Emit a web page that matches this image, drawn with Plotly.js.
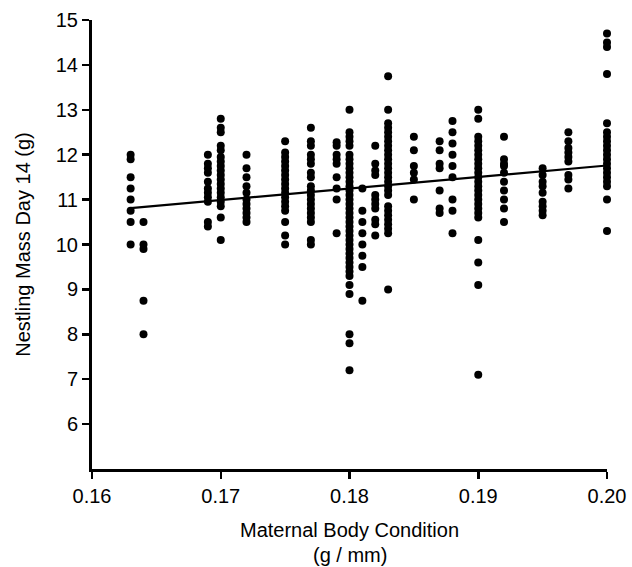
<!DOCTYPE html>
<html>
<head>
<meta charset="utf-8">
<script src="https://cdn.plot.ly/plotly-3.0.1.min.js"></script>
<style>html,body{margin:0;padding:0;background:#fff;}#chart{width:632px;height:567px;}</style>
</head>
<body>
<div id="chart"></div>
<script>
// Maternal body condition levels (g/mm)
const conditionLevels = [0.163, 0.164, 0.169, 0.170, 0.172, 0.175, 0.177, 0.179, 0.180, 0.181,
                         0.182, 0.183, 0.185, 0.187, 0.188, 0.190, 0.192, 0.195, 0.197, 0.200];
// Nestling mass day 14 (g) at each condition level
const mass163 = [12.0, 11.9, 11.5, 11.25, 11.0, 10.75, 10.5, 10.0];
const mass164 = [10.5, 10.0, 9.9, 8.75, 8.0];
const mass169 = [12.0, 11.8, 11.7, 11.6, 11.4, 11.25, 11.15, 11.05, 10.95, 10.5, 10.4];
const mass170 = [12.8, 12.6, 12.5, 12.2, 12.1, 11.95, 11.85, 11.75, 11.65, 11.55, 11.45, 11.35, 11.25, 11.15, 11.05, 10.95, 10.85, 10.6, 10.1];
const mass172 = [12.0, 11.7, 11.5, 11.3, 11.15, 11.0, 10.9, 10.8, 10.7, 10.6, 10.5];
const mass175 = [12.3, 12.05, 11.95, 11.85, 11.75, 11.65, 11.55, 11.45, 11.35, 11.25, 11.15, 11.05, 10.95, 10.85, 10.75, 10.5, 10.2, 10.0];
const mass177 = [12.6, 12.3, 12.2, 12.0, 11.9, 11.8, 11.6, 11.5, 11.3, 11.2, 11.1, 11.0, 10.9, 10.8, 10.7, 10.6, 10.5, 10.1, 10.0];
const mass179 = [12.28, 12.2, 12.0, 11.9, 11.8, 11.5, 11.25, 11.0, 10.25];
const mass180 = [13.0, 12.5, 12.4, 12.3, 12.2, 12.0, 11.9, 11.8, 11.7, 11.6, 11.5, 11.4, 11.3, 11.2, 11.1, 11.0, 10.9, 10.8, 10.7, 10.6, 10.5, 10.4, 10.3, 10.2, 10.1, 10.0, 9.9, 9.8, 9.7, 9.6, 9.5, 9.4, 9.3, 9.1, 8.9, 8.0, 7.8, 7.2];
const mass181 = [11.25, 10.75, 10.5, 10.25, 10.0, 9.75, 9.5, 8.75];
const mass182 = [12.2, 11.8, 11.65, 11.55, 11.1, 11.0, 10.9, 10.8, 10.55, 10.45, 10.2];
const mass183 = [13.75, 13.0, 12.7, 12.6, 12.5, 12.4, 12.3, 12.2, 12.1, 12.0, 11.9, 11.8, 11.7, 11.6, 11.5, 11.4, 11.3, 11.2, 11.1, 10.85, 10.75, 10.65, 10.55, 10.45, 10.35, 10.25, 9.0];
const mass185 = [12.4, 12.1, 11.75, 11.6, 11.45, 11.0];
const mass187 = [12.3, 12.1, 11.8, 11.7, 11.2, 10.8, 10.7];
const mass188 = [12.75, 12.5, 12.25, 12.0, 11.75, 11.5, 11.0, 10.75, 10.25];
const mass190 = [13.0, 12.8, 12.4, 12.3, 12.2, 12.1, 12.0, 11.9, 11.8, 11.7, 11.6, 11.5, 11.4, 11.3, 11.2, 11.1, 11.0, 10.9, 10.8, 10.7, 10.6, 10.1, 9.6, 9.1, 7.1];
const mass192 = [12.4, 11.9, 11.8, 11.75, 11.6, 11.4, 11.2, 11.0, 10.8, 10.5];
const mass195 = [11.7, 11.55, 11.4, 11.3, 11.15, 10.95, 10.85, 10.75, 10.65];
const mass197 = [12.5, 12.3, 12.15, 12.05, 11.95, 11.85, 11.55, 11.45, 11.25];
const mass200 = [14.7, 14.5, 14.4, 13.8, 12.7, 12.5, 12.4, 12.3, 12.2, 12.1, 12.0, 11.9, 11.8, 11.7, 11.6, 11.5, 11.4, 11.3, 11.0, 10.3];
const massGroups = [mass163, mass164, mass169, mass170, mass172, mass175, mass177, mass179, mass180, mass181,
                    mass182, mass183, mass185, mass187, mass188, mass190, mass192, mass195, mass197, mass200];
// Regression line endpoints
const fitX = [0.163, 0.200];
const fitY = [10.81, 11.76];
// Tick labels and titles
const xTickVals = [0.16, 0.17, 0.18, 0.19, 0.20];
const xTickText = ['0.16', '0.17', '0.18', '0.19', '0.20'];
const yTickVals = [6, 7, 8, 9, 10, 11, 12, 13, 14, 15];
const xTitleLines = ['Maternal Body Condition', '(g / mm)'];
const yTitle = 'Nestling Mass Day 14 (g)';

const xs = [], ys = [];
massGroups.forEach((g, i) => g.forEach(v => { xs.push(conditionLevels[i]); ys.push(v); }));

const font = {family: 'Liberation Sans, Arial, sans-serif', color: '#000'};

const data = [
  {x: xs, y: ys, type: 'scatter', mode: 'markers', cliponaxis: false,
   marker: {color: '#000', size: 8, line: {width: 0}}, hoverinfo: 'skip'},
  {x: fitX, y: fitY, type: 'scatter', mode: 'lines', cliponaxis: false,
   line: {color: '#000', width: 2.2}, hoverinfo: 'skip'}
];

const plotH = 567 - 20 - 98;
const layout = {
  width: 632, height: 567,
  margin: {l: 92, r: 25, t: 20, b: 98},
  paper_bgcolor: '#fff', plot_bgcolor: '#fff',
  showlegend: false,
  font: Object.assign({size: 20}, font),
  xaxis: {
    range: [0.16, 0.20], tickvals: xTickVals, ticktext: xTickText,
    showgrid: false, zeroline: false, showline: true, linecolor: '#000', linewidth: 3,
    ticks: 'outside', ticklen: 7, tickwidth: 2.5, tickcolor: '#000',
    tickfont: Object.assign({size: 20}, font),
    automargin: false
  },
  yaxis: {
    range: [5, 15], tickvals: yTickVals,
    showgrid: false, zeroline: false, showline: true, linecolor: '#000', linewidth: 3,
    ticks: 'outside', ticklen: 7, tickwidth: 2.5, tickcolor: '#000',
    tickfont: Object.assign({size: 20}, font),
    title: {text: yTitle, font: Object.assign({size: 20}, font), standoff: 20},
    automargin: false
  },
  annotations: [
    {text: xTitleLines[0], xref: 'paper', yref: 'paper', x: 0.5, y: -(530 - 469) / plotH,
     xanchor: 'center', yanchor: 'middle', showarrow: false, font: Object.assign({size: 20}, font)},
    {text: xTitleLines[1], xref: 'paper', yref: 'paper', x: 0.5, y: -(555 - 469) / plotH,
     xanchor: 'center', yanchor: 'middle', showarrow: false, font: Object.assign({size: 20}, font)}
  ]
};

Plotly.newPlot('chart', data, layout, {displayModeBar: false, staticPlot: true});
</script>
</body>
</html>
